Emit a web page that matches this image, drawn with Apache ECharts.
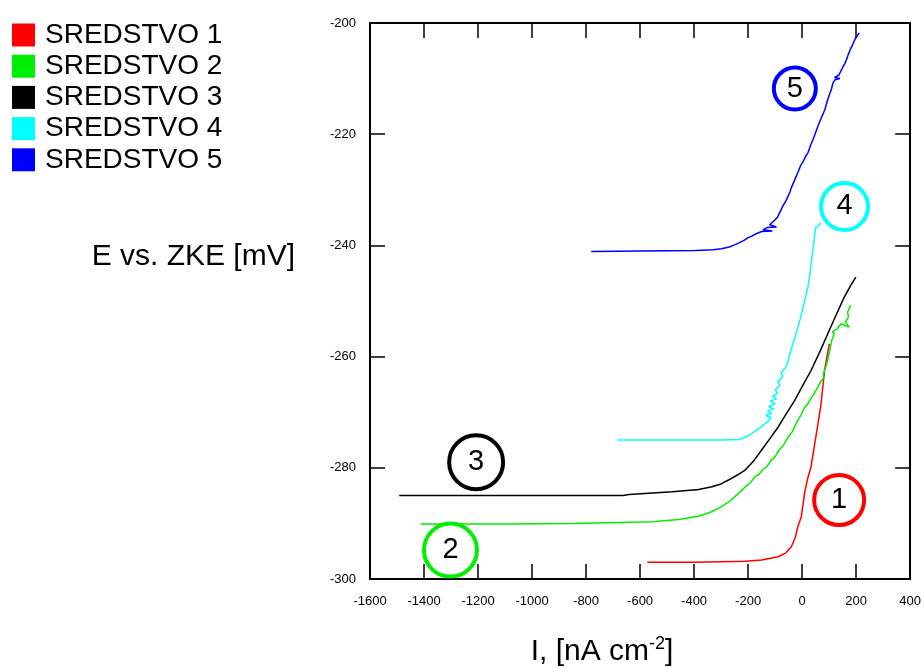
<!DOCTYPE html>
<html><head><meta charset="utf-8">
<script src="https://cdn.jsdelivr.net/npm/echarts@6/dist/echarts.min.js"></script>
<style>html,body{margin:0;padding:0;background:#fff}#c{width:924px;height:668px}</style>
</head><body><div id="c"></div>
<script>
const seriesNames = ['SREDSTVO 1','SREDSTVO 2','SREDSTVO 3','SREDSTVO 4','SREDSTVO 5'];
const seriesColors = ['#ff0000','#00ee00','#000000','#00ffff','#0000ff'];

const sredstvo1 = [[-573,-297.0],[-400,-297.0],[-211,-296.8],[-150,-296.6],[-89,-296.0],[-60,-295.3],[-40,-294.2],[-25,-292.5],[-16,-290.6],[-3,-288.8],[9,-284.6],[20,-282.0],[33,-279.8],[45,-276.2],[58,-272.3],[70,-268.5],[83,-262.5],[92,-260.0],[101,-257.7]];
const sredstvo2 = [[-1413,-290.1],[-1100,-290.1],[-849,-290.0],[-555,-289.7],[-457,-289.3],[-383,-288.7],[-340,-288.0],[-310,-287.3],[-270,-286.1],[-236,-284.6],[-205,-283.2],[-190,-282.6],[-175,-281.6],[-160,-281.2],[-145,-280.3],[-130,-279.8],[-114,-278.6],[-100,-278.0],[-85,-276.8],[-70,-276.0],[-52,-274.5],[-35,-273.4],[-20,-271.8],[-5,-270.6],[9,-269.1],[20,-268.6],[35,-267.3],[45,-266.6],[58,-265.5],[70,-264.4],[83,-263.7],[78,-263.2],[90,-261.5],[100,-259.5],[110,-257.0],[119,-255.9],[112,-255.5],[130,-255.0],[144,-254.1],[160,-254.4],[175,-254.7],[160,-253.8],[172,-252.8],[168,-252.0],[180,-250.8]];
const sredstvo3 = [[-1492,-285.0],[-1100,-285.0],[-665,-285.0],[-640,-284.8],[-481,-284.3],[-383,-283.9],[-334,-283.4],[-300,-282.9],[-273,-282.2],[-240,-281.3],[-211,-280.4],[-180,-278.8],[-150,-276.8],[-120,-274.8],[-89,-272.7],[-60,-270.4],[-28,-267.9],[0,-265.4],[33,-262.5],[65,-259.2],[95,-255.9],[125,-252.6],[156,-249.3],[180,-247.2],[199,-245.7]];
const sredstvo4 = [[-683,-275.0],[-500,-275.0],[-300,-275.0],[-236,-274.9],[-215,-274.6],[-195,-274.1],[-180,-273.6],[-160,-272.9],[-140,-272.2],[-125,-271.6],[-115,-270.9],[-135,-270.6],[-112,-270.2],[-128,-269.8],[-105,-269.4],[-125,-269.0],[-100,-268.5],[-118,-268.0],[-95,-267.6],[-110,-267.1],[-90,-266.6],[-100,-266.0],[-82,-265.2],[-90,-264.5],[-72,-263.6],[-78,-262.8],[-62,-262.0],[-52,-260.7],[-45,-259.4],[-35,-257.8],[-25,-256.3],[-16,-254.8],[-8,-253.4],[0,-251.8],[8,-250.2],[15,-248.8],[21,-247.6],[27,-245.8],[32,-243.8],[38,-241.5],[43,-239.6],[47,-238.0],[50,-236.8],[60,-236.5],[55,-236.2],[69,-235.9]];
const sredstvo5 = [[-781,-241.1],[-600,-241.0],[-395,-240.9],[-330,-240.8],[-299,-240.6],[-270,-240.3],[-250,-239.9],[-236,-239.6],[-215,-239.1],[-200,-238.6],[-185,-238.3],[-170,-237.9],[-150,-237.5],[-110,-237.4],[-145,-237.2],[-130,-236.8],[-95,-236.7],[-120,-236.3],[-105,-235.6],[-92,-235.0],[-80,-233.8],[-70,-232.8],[-60,-232.0],[-45,-230.4],[-40,-229.6],[-28,-228.3],[-15,-226.8],[-20,-226.5],[-5,-225.6],[5,-224.8],[15,-223.8],[22,-223.3],[32,-221.9],[40,-221.0],[50,-219.7],[58,-218.6],[68,-217.4],[76,-216.5],[84,-215.6],[92,-214.2],[100,-213.0],[108,-212.0],[114,-210.8],[122,-210.2],[140,-210.0],[120,-209.8],[135,-209.4],[142,-208.8],[150,-208.0],[158,-207.3],[165,-206.5],[172,-205.5],[180,-204.6],[188,-203.8],[195,-203.0],[203,-202.4],[208,-202.0],[212,-201.8]];
const seriesData = [sredstvo1, sredstvo2, sredstvo3, sredstvo4, sredstvo5];

// circled curve numbers: label text and anchor in data units
const markTexts = ['1','2','3','4','5'];
const markAnchors = [[137,-285.8],[-1302,-294.8],[-1207,-279.0],[157,-233.0],[-27,-211.8]];
const markSizes = [50,53,54,47,42];

const xMin = -1600, xMax = 400, xStep = 200;
const yMin = -300, yMax = -200, yStep = 20;

const FONT = '"Liberation Sans", Arial, Helvetica, sans-serif';
const chart = echarts.init(document.getElementById('c'), null, {renderer:'canvas'});

const axisLine = {show:true, onZero:false, lineStyle:{color:'#000', width:2}};
const tick = {show:true, inside:true, length:15, lineStyle:{color:'#000', width:1.5}};
const lbl = {color:'#000', fontSize:13, fontFamily:FONT, formatter: v => String(v)};

const series = seriesNames.map((n,i)=>({
  name:n, type:'line', data:seriesData[i], showSymbol:false, symbol:'none',
  lineStyle:{color:seriesColors[i], width:1.5}, itemStyle:{color:seriesColors[i]},
  xAxisIndex:0, yAxisIndex:0, animation:false, z:2
}));
series.push({
  name:'marks', type:'scatter', xAxisIndex:0, yAxisIndex:0, silent:true, animation:false, z:5,
  data: markTexts.map((t,i)=>({
    value: markAnchors[i], name:t, symbolSize: markSizes[i],
    itemStyle:{color:'rgba(255,255,255,0)', opacity:1, borderColor: seriesColors[i], borderWidth:4}
  })),
  symbol:'circle',
  label:{show:true, position:'inside', formatter:p=>p.name, color:'#000', fontSize:29, fontFamily:FONT}
});

chart.setOption({
  backgroundColor:'#fff',
  animation:false,
  grid:{left:370, right:12, top:23, bottom:89, containLabel:false},
  legend:{
    data:seriesNames, orient:'vertical', left:12, top:21, padding:0, icon:'rect',
    itemWidth:23, itemHeight:23, itemGap:3.2,
    textStyle:{fontSize:28, fontFamily:FONT, color:'#000', lineHeight:23, padding:[0,0,0,5]},
    selectedMode:false
  },
  xAxis:[
    {type:'value', min:xMin, max:xMax, interval:xStep, position:'bottom',
     axisLine, axisTick:tick, splitLine:{show:false}, axisLabel:Object.assign({margin:16}, lbl)},
    {type:'value', min:xMin, max:xMax, interval:xStep, position:'top',
     axisLine, axisTick:tick, splitLine:{show:false}, axisLabel:{show:false}}
  ],
  yAxis:[
    {type:'value', min:yMin, max:yMax, interval:yStep, position:'left',
     axisLine, axisTick:tick, splitLine:{show:false}, axisLabel:Object.assign({margin:14}, lbl)},
    {type:'value', min:yMin, max:yMax, interval:yStep, position:'right',
     axisLine, axisTick:tick, splitLine:{show:false}, axisLabel:{show:false}}
  ],
  graphic:[
    {type:'text', x:295, y:257, style:{text:'E vs. ZKE [mV]', font:'30px '+FONT, fill:'#000', textAlign:'right', textVerticalAlign:'middle'}},
    {type:'text', x:602, y:652, style:{
      text:'{a|I, [nA cm}{s|-2}{a|]}', textAlign:'center', textVerticalAlign:'middle', fill:'#000',
      rich:{a:{fontSize:30, fontFamily:FONT, color:'#000', lineHeight:34}, s:{fontSize:18, fontFamily:FONT, color:'#000', verticalAlign:'top', lineHeight:34, padding:[0,0,12,0]}}
    }}
  ],
  series
});
</script></body></html>
